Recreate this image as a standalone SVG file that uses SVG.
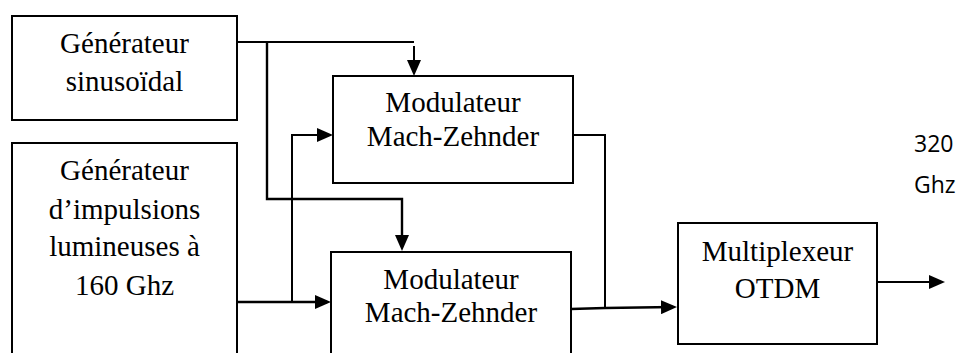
<svg xmlns="http://www.w3.org/2000/svg" width="962" height="353" viewBox="0 0 962 353">
<style>
.box{fill:#fff;stroke:#000;stroke-width:2}
.t{font-family:"Liberation Serif","Times New Roman",serif;font-size:29px;fill:#000;text-anchor:middle}
.s{font-family:"Open Sans","Liberation Sans",sans-serif;font-size:23px;fill:#000}
.c{fill:none;stroke:#000;stroke-width:2}
.ca{fill:none;stroke:#000;stroke-width:2.4}
</style>
<defs>
<marker id="ah" viewBox="0 0 16 14" refX="12" refY="7" markerWidth="16" markerHeight="14" markerUnits="userSpaceOnUse" orient="auto">
<path d="M0,0 L16,7 L0,14 z" fill="#000"/>
</marker>
</defs>
<rect width="962" height="353" fill="#fff"/>
<g id="connectors">
<polyline class="c" points="237,42 414,42"/>
<line class="c" x1="414" y1="46" x2="414" y2="72" marker-end="url(#ah)"/>
<polyline class="ca" points="267,42 267,199 402,199 402,247" marker-end="url(#ah)"/>
<line class="ca" x1="237" y1="302" x2="327" y2="302" marker-end="url(#ah)"/>
<polyline class="c" points="292,302 292,135 329,135" marker-end="url(#ah)"/>
<polyline class="c" points="573,135 605,135 605,307"/>
<polyline class="ca" points="571,309 605,308 673,307" marker-end="url(#ah)"/>
<line class="c" x1="877" y1="282" x2="941" y2="282" marker-end="url(#ah)"/>
</g>
<g id="gen-sinus">
<rect class="box" x="12" y="16" width="225" height="104"/>
<text class="t" x="124.5" y="53">Générateur</text>
<text class="t" x="124.5" y="91">sinusoïdal</text>
</g>
<g id="gen-impulsions">
<rect class="box" x="12" y="143" width="225" height="230"/>
<text class="t" x="124.5" y="180">Générateur</text>
<text class="t" x="124.5" y="219">d’impulsions</text>
<text class="t" x="124.5" y="256">lumineuses à</text>
<text class="t" x="124.5" y="295">160 Ghz</text>
</g>
<g id="mod1">
<rect class="box" x="333" y="76" width="240" height="107"/>
<text class="t" x="453" y="112">Modulateur</text>
<text class="t" x="453" y="146">Mach-Zehnder</text>
</g>
<g id="mod2">
<rect class="box" x="331" y="252" width="240" height="130"/>
<text class="t" x="451" y="289">Modulateur</text>
<text class="t" x="451" y="322">Mach-Zehnder</text>
</g>
<g id="mux">
<rect class="box" x="678" y="223" width="199" height="121"/>
<text class="t" x="777.5" y="261">Multiplexeur</text>
<text class="t" x="777.5" y="298">OTDM</text>
</g>
<g id="label-320">
<text class="s" x="914" y="152">320</text>
<text class="s" x="914" y="193">Ghz</text>
</g>
</svg>
